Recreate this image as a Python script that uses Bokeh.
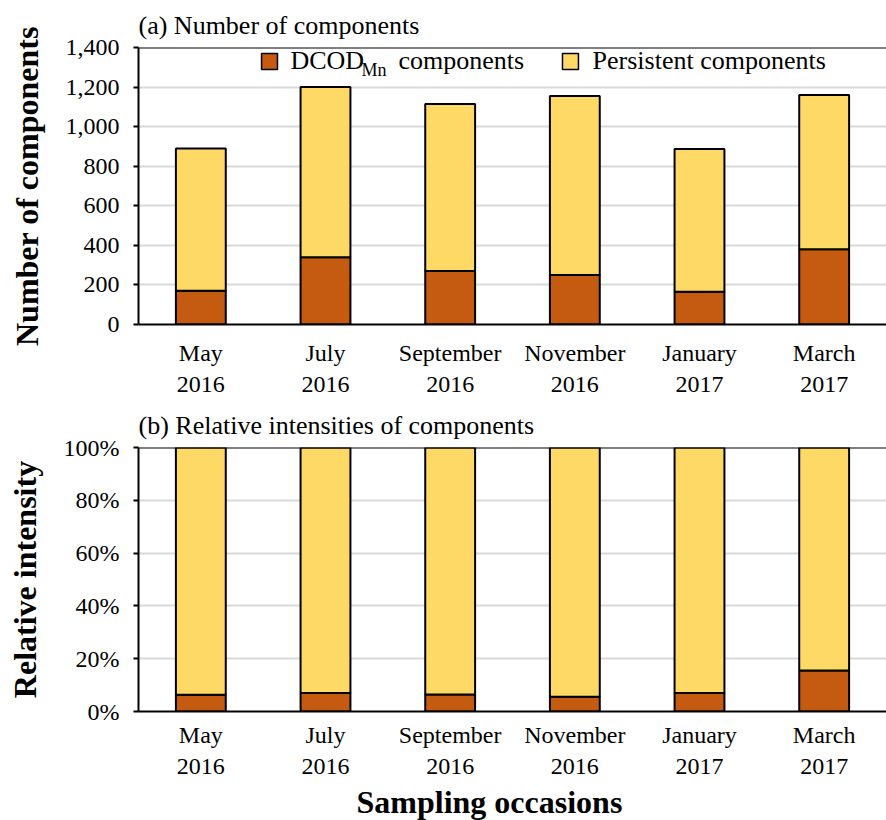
from bokeh.plotting import figure
from bokeh.layouts import column
from bokeh.models import (ColumnDataSource, FactorRange, Range1d, FixedTicker,
                          NumeralTickFormatter, Span, Label, BoxAnnotation, Title)
from bokeh.embed import file_html
from bokeh.resources import INLINE

# Sampling occasions (two-line category labels)
occasions = ["May\n2016", "July\n2016", "September\n2016",
             "November\n2016", "January\n2017", "March\n2017"]

# (a) number of components per occasion
dcod_counts = [170, 340, 270, 250, 165, 380]
persistent_counts = [720, 860, 845, 905, 722, 780]

# (b) relative intensities (fractions of total)
dcod_share = [0.063, 0.070, 0.064, 0.056, 0.070, 0.155]
persistent_share = [0.937, 0.930, 0.936, 0.944, 0.930, 0.845]

count_ticks = [0, 200, 400, 600, 800, 1000, 1200, 1400]
share_ticks = [0.0, 0.2, 0.4, 0.6, 0.8, 1.0]

series_names = ["DCOD", "Persistent components"]

FONT = "Liberation Serif"
ORANGE = "#C55A11"
YELLOW = "#FFD966"
GRID = "#d9d9d9"
INK = "#000000"


def make_panel(title, dcod, persistent, ticks, fmt, ylabel, height, border_bottom,
               xlabel_standoff):
    src = ColumnDataSource(dict(occasion=occasions, dcod=dcod, persistent=persistent))
    p = figure(x_range=FactorRange(*occasions), y_range=Range1d(ticks[0], ticks[-1]),
               width=886, height=height, output_backend="svg", toolbar_location=None,
               min_border_left=138, min_border_right=0, min_border_top=47,
               min_border_bottom=border_bottom)
    p.vbar_stack(["dcod", "persistent"], x="occasion", width=0.4, source=src,
                 fill_color=[ORANGE, YELLOW], line_color="black", line_width=2)

    p.outline_line_color = None
    p.background_fill_color = "white"
    p.border_fill_color = "white"

    p.title.text = title
    p.title.text_font = FONT
    p.title.text_font_size = "26px"
    p.title.text_font_style = "normal"
    p.title.text_color = INK
    p.title.align = "left"
    p.title.standoff = 16

    p.xgrid.visible = False
    p.ygrid.ticker = FixedTicker(ticks=ticks)
    p.ygrid.grid_line_color = GRID
    p.ygrid.grid_line_width = 2

    xa = p.xaxis[0]
    xa.axis_line_color = INK
    xa.axis_line_width = 2
    xa.major_tick_line_color = None
    xa.major_tick_out = 0
    xa.major_tick_in = 0
    xa.minor_tick_line_color = None
    xa.major_label_text_font = FONT
    xa.major_label_text_font_size = "24px"
    xa.major_label_text_color = INK
    xa.major_label_standoff = xlabel_standoff

    ya = p.yaxis[0]
    ya.ticker = FixedTicker(ticks=ticks)
    ya.formatter = NumeralTickFormatter(format=fmt)
    ya.axis_line_color = INK
    ya.axis_line_width = 2
    ya.major_tick_line_color = INK
    ya.major_tick_line_width = 2
    ya.major_tick_out = 5
    ya.major_tick_in = 0
    ya.minor_tick_line_color = None
    ya.major_label_text_font = FONT
    ya.major_label_text_font_size = "24px"
    ya.major_label_text_color = INK
    ya.major_label_standoff = 14
    ya.axis_label = ylabel
    ya.axis_label_text_font = FONT
    ya.axis_label_text_font_size = "32px"
    ya.axis_label_text_font_style = "bold"
    ya.axis_label_text_color = INK
    ya.axis_label_standoff = 18

    # top border of the plotting area
    p.add_layout(Span(location=ticks[-1], dimension="width", line_color=INK, line_width=2))
    return p


top = make_panel("(a) Number of components", dcod_counts, persistent_counts,
                 count_ticks, "0,0", "Number of components", 400, 76, 15)
bottom = make_panel("(b) Relative intensities of components", dcod_share, persistent_share,
                    share_ticks, "0%", "Relative intensity", 420, 109, 10)

# legend of panel (a): swatches and labels, DCOD carries the "Mn" subscript
legend_text = dict(text_font=FONT, text_font_size="26px", text_color=INK,
                   text_baseline="middle", text_align="left")
top.add_layout(BoxAnnotation(left=0.987, right=1.115, bottom=1289, top=1370,
                             fill_color=ORANGE, fill_alpha=1.0,
                             line_color="black", line_width=1.5, line_alpha=1.0))
top.add_layout(Label(x=1.219, y=1333, text=series_names[0], **legend_text))
top.add_layout(Label(x=1.789, y=1287, text="Mn", text_font=FONT, text_font_size="18px",
                     text_color=INK, text_baseline="middle", text_align="left"))
top.add_layout(Label(x=2.085, y=1333, text="components", **legend_text))
top.add_layout(BoxAnnotation(left=3.401, right=3.529, bottom=1289, top=1370,
                             fill_color=YELLOW, fill_alpha=1.0,
                             line_color="black", line_width=1.5, line_alpha=1.0))
top.add_layout(Label(x=3.642, y=1333, text=series_names[1], **legend_text))

# shared x-axis title under panel (b)
bottom.add_layout(Title(text="Sampling occasions", align="left", offset=218,
                        text_font=FONT, text_font_size="32px", text_font_style="bold",
                        text_color=INK, standoff=0), "below")

layout = column(top, bottom, spacing=0)
with open("out.html", "w") as f:
    f.write(file_html(layout, INLINE))
